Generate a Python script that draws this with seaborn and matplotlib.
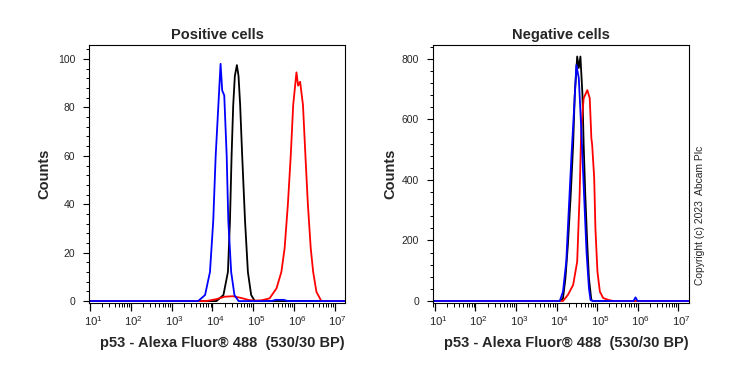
import numpy as np
import pandas as pd
import seaborn as sns
import matplotlib
matplotlib.use("Agg")
from matplotlib import pyplot as plt
from matplotlib.ticker import LogLocator, FixedLocator, AutoMinorLocator, NullFormatter
from matplotlib.transforms import ScaledTranslation

sns.set_style("ticks")
plt.rcParams['font.family'] = ['Liberation Sans', 'DejaVu Sans']
plt.rcParams['mathtext.fontset'] = 'custom'
plt.rcParams['mathtext.rm'] = 'Liberation Sans'
plt.rcParams['mathtext.it'] = 'Liberation Sans:italic'
plt.rcParams['mathtext.bf'] = 'Liberation Sans:bold'

# positive cells (log10 of intensity, counts)
pos_black_log = [0.9, 4.10, 4.27, 4.38, 4.43, 4.47, 4.51, 4.55, 4.60, 4.64, 4.68, 4.73, 4.80, 4.87, 4.95, 5.04, 7.3]
pos_black_cnt = [0, 0, 2.5, 12, 33, 60, 81, 93, 97.5, 93, 81, 60, 33, 12, 2.5, 0, 0]

pos_red_log = [0.9, 3.85, 4.1, 4.3, 4.5, 4.7, 4.9, 5.05, 5.2, 5.40, 5.57, 5.69, 5.77, 5.85, 5.92, 5.98,
               6.06, 6.10, 6.15, 6.22, 6.28, 6.34, 6.41, 6.47, 6.55, 6.67, 7.3]
pos_red_cnt = [0, 0, 0.8, 1.8, 2.0, 1.3, 0.4, 0.2, 0.3, 1.1, 5.2, 12, 21.8, 40, 60, 81,
               94.5, 89, 90.6, 81, 60, 40, 21.8, 12, 3.8, 0, 0]

pos_blue_log = [0.9, 3.65, 3.82, 3.94, 4.02, 4.08, 4.20, 4.24, 4.29, 4.35, 4.39, 4.46, 4.54, 4.64,
                5.45, 5.55, 5.75, 5.85, 7.3]
pos_blue_cnt = [0, 0, 2.5, 12, 33, 60, 98, 87, 85, 60, 33, 12, 2.5, 0,
                0, 0.5, 0.5, 0, 0]

# negative cells
neg_black_log = [0.9, 4.09, 4.16, 4.22, 4.28, 4.35, 4.41, 4.45, 4.51, 4.55, 4.59, 4.64, 4.67, 4.71,
                 4.76, 4.80, 4.86, 4.90, 7.3]
neg_black_cnt = [0, 0, 9, 75, 185, 350, 516, 681, 808, 770, 808, 681, 516, 350,
                 185, 75, 3, 0, 0]

neg_red_log = [0.9, 4.16, 4.28, 4.41, 4.51, 4.57, 4.61, 4.67, 4.76, 4.82, 4.86, 4.88, 4.93, 4.96,
               5.01, 5.07, 5.15, 5.27, 5.4, 7.3]
neg_red_cnt = [0, 0, 20, 53, 130, 350, 571, 670, 697, 670, 538, 516, 406, 240,
               97, 31, 10, 4, 0, 0]

neg_blue_log = [0.9, 4.08, 4.16, 4.24, 4.30, 4.37, 4.43, 4.49, 4.55, 4.61, 4.68, 4.74, 4.80, 4.84,
                4.90, 5.9, 5.95, 6.0, 7.3]
neg_blue_cnt = [0, 0, 31, 130, 295, 483, 626, 780, 736, 571, 350, 163, 42, 3,
                0, 0, 12, 0, 0]

x_label = 'p53 - Alexa Fluor® 488  (530/30 BP)'


def make_frame(log_x, counts):
    return pd.DataFrame({'x': 10.0 ** np.array(log_x), 'count': counts})


def draw_panel(ax, series, title, xlim_log, ylim, yticks, label_x):
    for log_x, counts, color in series:
        sns.lineplot(data=make_frame(log_x, counts), x='x', y='count', color=color, lw=1.3,
                     sort=False, estimator=None, errorbar=None, ax=ax)
    ax.set_xscale('log')
    ax.set_xlim(10 ** xlim_log[0], 10 ** xlim_log[1])
    ax.set_ylim(*ylim)
    ax.xaxis.set_major_locator(LogLocator(base=10, numticks=20))
    ax.xaxis.set_minor_locator(LogLocator(base=10, subs=np.arange(2, 10), numticks=20))
    ax.xaxis.set_minor_formatter(NullFormatter())
    ax.yaxis.set_major_locator(FixedLocator(yticks))
    ax.yaxis.set_minor_locator(AutoMinorLocator(5))
    ax.tick_params(axis='x', which='major', length=6, width=0.9, labelsize=8.2, pad=2, color='black')
    ax.tick_params(axis='x', which='minor', length=3, width=0.7, color='black')
    ax.tick_params(axis='y', which='major', length=4, width=0.8, labelsize=7.5, pad=6, color='black')
    ax.tick_params(axis='y', which='minor', length=2, width=0.7, color='black')
    for sp in ax.spines.values():
        sp.set_visible(True)
        sp.set_color('black')
        sp.set_linewidth(0.8)
    ax.set_title(title, fontsize=10.5, fontweight='bold', pad=4)
    ax.set_ylabel('Counts', fontsize=10.5, fontweight='bold')
    ax.yaxis.set_label_coords(label_x, 0.5)
    ax.set_xlabel(x_label, fontsize=10.5, fontweight='bold')
    ax.xaxis.set_label_coords(0.52, -0.128)
    ax.xaxis.label.set_verticalalignment('top')


fig = plt.figure(figsize=(7.39, 3.70), dpi=100)
ax1 = fig.add_axes([89 / 739, 67 / 370, 256 / 739, 258 / 370])
ax2 = fig.add_axes([433 / 739, 67 / 370, 256 / 739, 258 / 370])

draw_panel(ax1, [(pos_black_log, pos_black_cnt, 'black'),
                 (pos_red_log, pos_red_cnt, '#ff0000'),
                 (pos_blue_log, pos_blue_cnt, '#0000ff')],
           'Positive cells', (0.975, 7.25), (-0.8, 105.8), [0, 20, 40, 60, 80, 100], -0.148)
draw_panel(ax2, [(neg_black_log, neg_black_cnt, 'black'),
                 (neg_red_log, neg_red_cnt, '#ff0000'),
                 (neg_blue_log, neg_blue_cnt, '#0000ff')],
           'Negative cells', (0.951, 7.27), (-6.6, 846), [0, 200, 400, 600, 800], -0.141)

# shift decade labels a little to the right like the original
offset = ScaledTranslation(3 / 100, 0, fig.dpi_scale_trans)
for ax in (ax1, ax2):
    for tick in ax.xaxis.get_major_ticks():
        tick.label1.set_transform(tick.label1.get_transform() + offset)

fig.text(700 / 739, 1 - 215 / 370, 'Copyright (c) 2023  Abcam Plc', rotation=90,
         fontsize=7.4, ha='center', va='center')

fig.savefig('out.png', dpi=100)
